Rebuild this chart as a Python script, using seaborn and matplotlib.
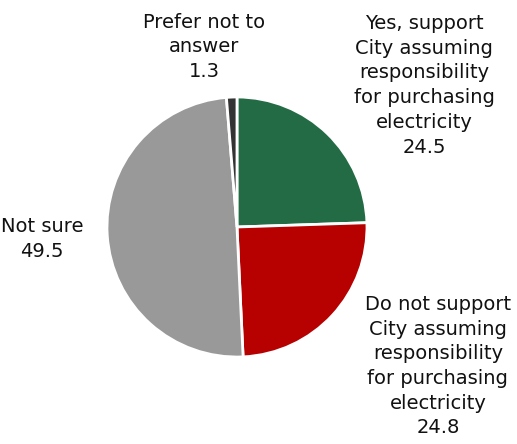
import matplotlib
matplotlib.use("Agg")
import matplotlib.pyplot as plt
import seaborn as sns

sns.set_theme(style="white")
plt.rcParams['font.family'] = ['DejaVu Sans']

categories = [
    "Yes, support\nCity assuming\nresponsibility\nfor purchasing\nelectricity",
    "Do not support\nCity assuming\nresponsibility\nfor purchasing\nelectricity",
    "Not sure",
    "Prefer not to\nanswer",
]
values = [24.5, 24.8, 49.5, 1.3]
colors = ["#236b45", "#b70000", "#999999", "#333333"]

# label anchor points in pie units (radius = 1)
label_pos = [(1.44, 1.09), (1.545, -1.07), (-1.50, -0.09), (-0.25, 1.385)]

fig = plt.figure(figsize=(5.17, 4.44), dpi=100)
ax = fig.add_axes([0, 0, 1, 1])
ax.pie(values, colors=colors, startangle=90, counterclock=False,
       radius=1.0, wedgeprops=dict(edgecolor="white", linewidth=2))

for cat, val, (x, y) in zip(categories, values, label_pos):
    ax.text(x, y, f"{cat}\n{val:.1f}", ha="center", va="center",
            fontsize=14, color="#111111", linespacing=1.38)

ax.set_xlim(-1.823, 2.154)
ax.set_ylim(-1.669, 1.746)
ax.set_aspect("auto")
ax.axis("off")
fig.savefig("out.png", dpi=100, facecolor="white")
